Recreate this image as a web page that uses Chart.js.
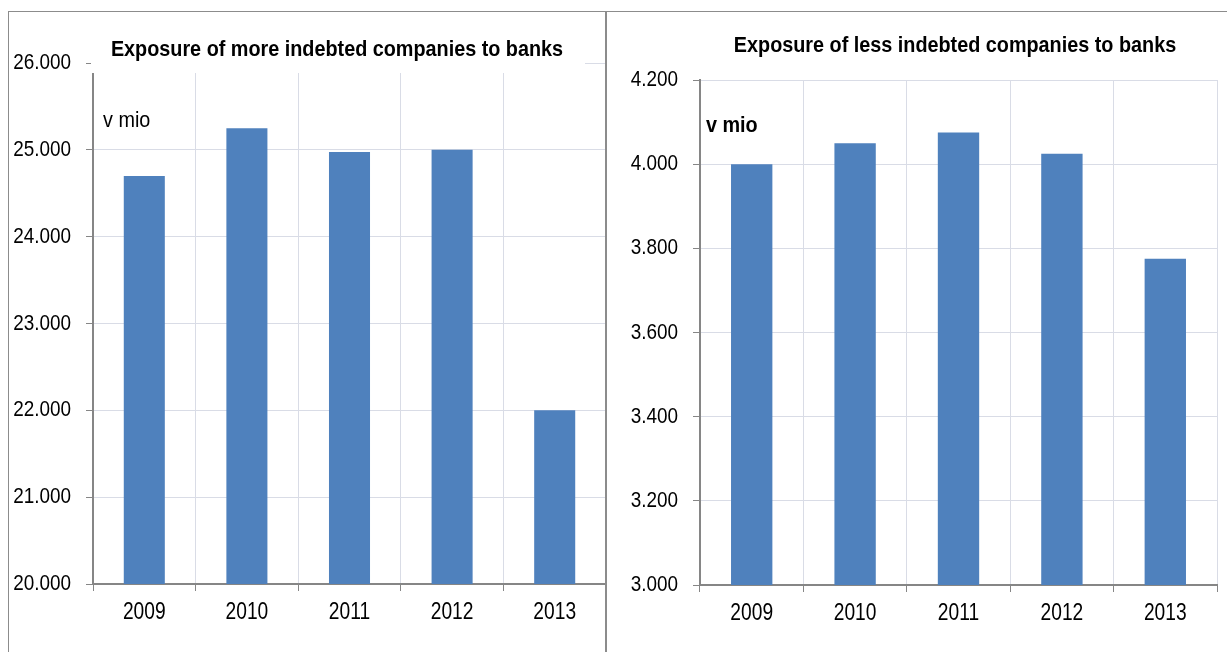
<!DOCTYPE html>
<html>
<head>
<meta charset="UTF-8">
<title>Exposure to banks</title>
<script src="https://cdn.jsdelivr.net/npm/chart.js@4.4.0/dist/chart.umd.min.js"></script>
<style>
    html, body { margin: 0; padding: 0; background: #fff; }
    #page { position: relative; width: 1227px; height: 652px; overflow: hidden; }
    canvas { position: absolute; top: 0; }
    .rule { position: absolute; background: #8c8c8c; z-index: 5; }
</style>
</head>
<body>
<div id="page">
    <canvas id="moreChart" width="608" height="652" style="left:0"></canvas>
    <canvas id="lessChart" width="619" height="652" style="left:608px"></canvas>
    <div class="rule" style="left:8px; top:11px; width:1219px; height:1px"></div>
    <div class="rule" style="left:8px; top:11px; width:1px; height:641px"></div>
    <div class="rule" style="left:605px; top:11px; width:2px; height:641px"></div>
</div>
<script>
    var years = ['2009', '2010', '2011', '2012', '2013'];
    var moreIndebted = [24700, 25250, 24975, 25000, 22000];
    var lessIndebted = [4000, 4050, 4075, 4025, 3775];
    var moreRange = [20000, 26000, 1000];
    var lessRange = [3000, 4200, 200];

    var barColor = '#4f81bd';
    var gridColor = '#d9dce6';
    var axisColor = '#868686';
    var fontName = '"Liberation Sans", Arial, sans-serif';

    // thousands with a dot: 26000 -> 26.000
    var fmt = function (v) {
        return String(v).replace(/\B(?=(\d{3})+(?!\d))/g, '.');
    };

    // text in these charts is condensed, so squeeze it horizontally
    var narrowText = function (ctx, text, x, y, align, font, sx) {
        ctx.save();
        ctx.translate(x, y);
        ctx.scale(sx, 1);
        ctx.font = font;
        ctx.textAlign = align;
        ctx.textBaseline = 'middle';
        ctx.fillStyle = '#000';
        ctx.fillText(text, 0, 0);
        ctx.restore();
    };

    // title, unit label, axis labels and the white box the title sits in
    var panelText = {
        id: 'panelText',
        afterDraw: function (chart) {
            var o = chart.options.plugins.panelText;
            var ctx = chart.ctx;
            var xs = chart.scales.x, ys = chart.scales.y;
            if (o.mask) {
                ctx.save();
                ctx.fillStyle = '#fff';
                ctx.fillRect(o.mask[0], o.mask[1], o.mask[2], o.mask[3]);
                ctx.restore();
            }
            narrowText(ctx, o.title, o.titleX, o.titleY, 'center', 'bold 22px ' + fontName, 0.9);
            narrowText(ctx, 'v mio', o.unitX, o.unitY, 'left',
                (o.unitBold ? 'bold ' : '') + '22px ' + fontName, 0.9);

            ys.ticks.forEach(function (t, i) {
                narrowText(ctx, fmt(t.value), ys.right - 22, ys.getPixelForTick(i), 'right',
                    '22px ' + fontName, 0.86);
            });
            chart.data.labels.forEach(function (lab, i) {
                narrowText(ctx, lab, xs.getPixelForTick(i), xs.top + 28, 'center',
                    '24px ' + fontName, 0.8);
            });
        }
    };

    var makeChart = function (id, values, range, yWidth, xHeight, pad, text) {
        return new Chart(document.getElementById(id), {
            type: 'bar',
            data: {
                labels: years,
                datasets: [{
                    data: values,
                    backgroundColor: barColor,
                    borderWidth: 0,
                    barPercentage: 0.8,
                    categoryPercentage: 0.5
                }]
            },
            options: {
                responsive: false,
                devicePixelRatio: 1,
                animation: false,
                layout: { padding: pad },
                plugins: {
                    legend: { display: false },
                    title: { display: false },
                    tooltip: { enabled: false },
                    panelText: text
                },
                scales: {
                    x: {
                        grid: { color: gridColor, tickColor: axisColor, tickLength: 7, offset: true },
                        border: { color: axisColor, width: 2 },
                        ticks: { display: false },
                        afterFit: function (s) { s.height = xHeight; }
                    },
                    y: {
                        min: range[0],
                        max: range[1],
                        grid: { color: gridColor, tickColor: axisColor, tickLength: 7 },
                        border: { color: axisColor, width: 2 },
                        ticks: { stepSize: range[2], display: false },
                        afterFit: function (s) { s.width = yWidth; }
                    }
                }
            },
            plugins: [panelText]
        });
    };

    makeChart('moreChart', moreIndebted, moreRange, 93, 68,
        { top: 63, right: 2, bottom: 0, left: 0 },
        { title: 'Exposure of more indebted companies to banks', titleX: 337, titleY: 50,
          unitX: 103, unitY: 121, unitBold: false, mask: [91, 12, 494, 61] });

    makeChart('lessChart', lessIndebted, lessRange, 92, 67,
        { top: 80, right: 10, bottom: 0, left: 0 },
        { title: 'Exposure of less indebted companies to banks', titleX: 347, titleY: 46,
          unitX: 98, unitY: 126, unitBold: true, mask: null });
</script>
</body>
</html>
